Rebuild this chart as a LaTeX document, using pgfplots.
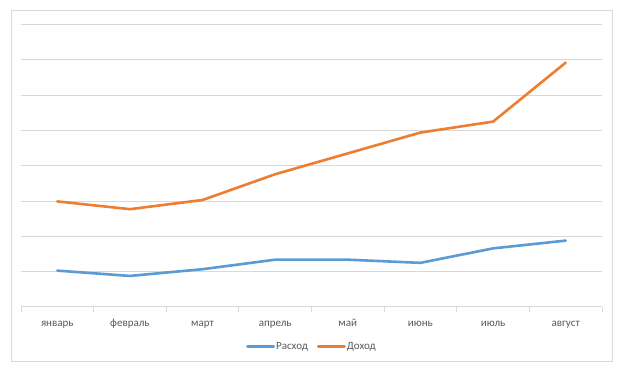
\documentclass[border=0pt]{standalone}
\usepackage{pgfplots}
\pgfplotsset{compat=1.18}
\usepackage{fontspec}
\setmainfont{Carlito}
\definecolor{blueS}{HTML}{5B9BD5}
\definecolor{orangeS}{HTML}{ED7D31}
\definecolor{gridc}{HTML}{D9D9D9}
\definecolor{txt}{HTML}{595959}
\begin{document}
\begin{tikzpicture}[x=1pt,y=1pt]
\fill[white] (0,0) rectangle (624,372);
\draw[gridc, line width=1pt] (11.5,10.5) rectangle (612.5,361.5);
\begin{axis}[
  at={(21pt,65pt)}, anchor=south west,
  scale only axis, width=581pt, height=282.5pt,
  xmin=-0.5, xmax=7.5, ymin=0, ymax=8,
  axis x line*=bottom, axis y line*=left,
  x axis line style={gridc, line width=1pt, -},
  y axis line style={draw=none},
  xtick={0,...,7},
  xticklabels={январь,февраль,март,апрель,май,июнь,июль,август},
  major x tick style={draw=none},
  minor xtick={-0.5,0.5,...,7.5},
  minor x tick style={gridc, line width=0.8pt},
  xtick align=outside, minor tick length=5pt,
  ytick={0,...,8}, yticklabels={}, ytick style={draw=none},
  ymajorgrids, grid style={gridc, line width=1pt},
  typeset ticklabels with strut,
  tick label style={font=\fontsize{11}{13}\selectfont, text=txt},
  xticklabel style={yshift=-3pt},
  legend columns=2,
  legend style={at={(0.5,-0.14)}, anchor=center, draw=none, fill=none,
    font=\fontsize{11}{13}\selectfont, text=txt,
    nodes={inner xsep=1pt},
    /tikz/every even column/.append style={column sep=8pt}},
  legend image code/.code={\draw[#1, line width=3pt] (0pt,0pt) -- (26pt,0pt);},
  clip=false,
]
\addplot[blueS, line width=2.6pt, line join=round, line cap=round] coordinates {
 (0,1.03) (1,0.88) (2,1.07) (3,1.34) (4,1.34) (5,1.25) (6,1.66) (7,1.88)};
\addlegendentry{Расход}
\addplot[orangeS, line width=2.6pt, line join=round, line cap=round] coordinates {
 (0,2.99) (1,2.77) (2,3.03) (3,3.76) (4,4.35) (5,4.94) (6,5.25) (7,6.92)};
\addlegendentry{Доход}
\end{axis}
\end{tikzpicture}
\end{document}
